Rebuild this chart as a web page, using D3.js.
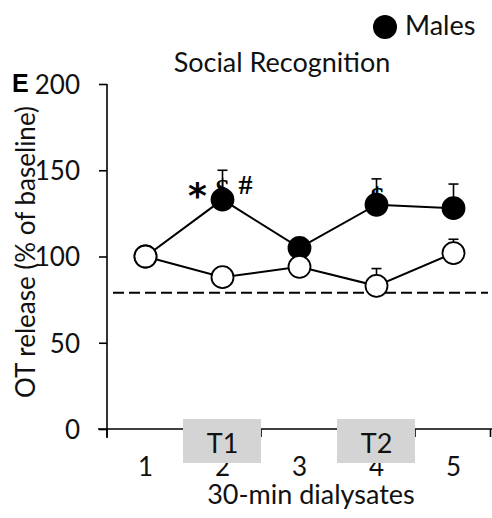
<!DOCTYPE html>
<html>
<head>
<meta charset="utf-8">
<script src="https://cdn.jsdelivr.net/npm/d3@7"></script>
<style>
  html, body { margin: 0; padding: 0; background: #fff; }
  svg { display: block; }
  text { font-family: Lato, "Open Sans", sans-serif; fill: #111; }
</style>
</head>
<body>
<svg id="chart" width="492" height="518"></svg>
<script>
// Time points (30-min dialysates)
const dialysates = [1, 2, 3, 4, 5];
// OT release, % of baseline (mean and upper SEM)
const maleMean = [100, 133, 105, 130, 128];
const maleSem = [0, 17, 3, 15, 14];
const femaleMean = [100, 88, 94, 83, 102];
const femaleSem = [0, 6, 3, 10, 8];
// Reference level (dashed line)
const referenceLevel = [79];
// Y axis ticks
const yTicks = [0, 50, 100, 150, 200];
// Test periods shaded on the x axis
const testPeriods = [{ label: "T1", at: 2 }, { label: "T2", at: 4 }];
// Significance marks above male points (offsets from the marker centre)
const marks = [
  { at: 2, text: "*", dx: -25, dy: 8 },
  { at: 2, text: "$", dx: 0, dy: -2 },
  { at: 2, text: "#", dx: 23, dy: -6 },
  { at: 4, text: "$", dx: 1, dy: 1 }
];

const svg = d3.select("#chart");

const x = d3.scaleBand().domain(dialysates).range([107, 492]).padding(0);
const y = d3.scaleLinear().domain([0, 200]).range([429, 84]);
const cx = d => x(d) + x.bandwidth() / 2;

// Title and legend
svg.append("text").attr("x", 282).attr("y", 72).attr("text-anchor", "middle")
  .style("font-size", "27px").text("Social Recognition");
svg.append("circle").attr("cx", 385).attr("cy", 27).attr("r", 12).attr("fill", "#000");
svg.append("text").attr("x", 405).attr("y", 35).style("font-size", "27px").text("Males");

// Panel letter
svg.append("text").attr("x", 12).attr("y", 92)
  .style("font-family", "'Liberation Sans', Arial, sans-serif")
  .style("font-size", "25px").style("font-weight", "bold").style("fill", "#000").text("E");

// Y axis
const yAxis = d3.axisLeft(y).tickValues(yTicks).tickSize(8).tickPadding(19);
const gy = svg.append("g").attr("transform", "translate(107,0)").call(yAxis);
gy.select(".domain").attr("d", "M0,84V438").attr("stroke", "#000").attr("stroke-width", 1.6);
gy.selectAll(".tick line").attr("stroke", "#000").attr("stroke-width", 1.6);
gy.selectAll(".tick text").style("font-size", "26px").style("font-family", "Lato, sans-serif")
  .attr("fill", "#111").attr("dy", "0.36em");

// Y axis title
svg.append("text").attr("transform", "translate(35,252) rotate(-90)")
  .attr("text-anchor", "middle").style("font-size", "26px").text("OT release (% of baseline)");

// X axis line with ticks at category boundaries
const boundaries = dialysates.map(d => x(d) + x.bandwidth()).concat([x(dialysates[0])]);
svg.append("line").attr("x1", 98).attr("x2", 492).attr("y1", y(0)).attr("y2", y(0))
  .attr("stroke", "#000").attr("stroke-width", 1.6);
svg.append("g").selectAll("line").data(boundaries).join("line")
  .attr("x1", d => Math.min(d, 490.5)).attr("x2", d => Math.min(d, 490.5))
  .attr("y1", y(0)).attr("y2", y(0) + 8)
  .attr("stroke", "#000").attr("stroke-width", 1.6);

// X tick labels
svg.append("g").selectAll("text").data(dialysates).join("text")
  .attr("x", d => cx(d)).attr("y", 476).attr("text-anchor", "middle")
  .style("font-size", "26px").text(d => d);

// Shaded test periods (drawn over the tick labels they sit on)
const tp = svg.append("g").selectAll("g").data(testPeriods).join("g");
tp.append("rect")
  .attr("x", d => x(d.at) - 1).attr("y", 419)
  .attr("width", x.bandwidth() + 1).attr("height", 44)
  .attr("fill", "#d4d4d4");
tp.append("text").attr("x", d => cx(d.at)).attr("y", 453).attr("text-anchor", "middle")
  .style("font-size", "27px").text(d => d.label);

// X axis title
svg.append("text").attr("x", 311).attr("y", 504).attr("text-anchor", "middle")
  .style("font-size", "27px").text("30-min dialysates");

// Dashed reference line
svg.append("line").attr("x1", 113).attr("x2", 488)
  .attr("y1", y(referenceLevel[0])).attr("y2", y(referenceLevel[0]))
  .attr("stroke", "#000").attr("stroke-width", 2).attr("stroke-dasharray", "11,5");

// Significance marks
svg.append("g").selectAll("text").data(marks).join("text")
  .attr("x", d => cx(d.at) + d.dx)
  .attr("y", d => y(maleMean[dialysates.indexOf(d.at)]) + d.dy)
  .attr("text-anchor", "middle")
  .style("font-family", d => d.text === "*" ? "'DejaVu Sans', sans-serif" : "'Liberation Serif', serif")
  .style("font-size", d => d.text === "*" ? "36px" : "28px")
  .style("font-weight", "bold")
  .style("fill", "#000")
  .text(d => d.text);

function series(mean, sem, fill) {
  const pts = dialysates.map((d, i) => ({ d, m: mean[i], e: sem[i] }));
  const g = svg.append("g");
  // upper error bars
  const eb = g.selectAll("g.err").data(pts.filter(p => p.e > 0)).join("g");
  eb.append("line").attr("x1", p => cx(p.d)).attr("x2", p => cx(p.d))
    .attr("y1", p => y(p.m)).attr("y2", p => y(p.m + p.e))
    .attr("stroke", "#000").attr("stroke-width", 1.6);
  eb.append("line").attr("x1", p => cx(p.d) - 5).attr("x2", p => cx(p.d) + 5)
    .attr("y1", p => y(p.m + p.e)).attr("y2", p => y(p.m + p.e))
    .attr("stroke", "#000").attr("stroke-width", 1.6);
  // connecting line
  g.append("path").datum(pts)
    .attr("d", d3.line().x(p => cx(p.d)).y(p => y(p.m)))
    .attr("fill", "none").attr("stroke", "#000").attr("stroke-width", 2);
  // markers
  g.selectAll("circle").data(pts).join("circle")
    .attr("cx", p => cx(p.d)).attr("cy", p => y(p.m)).attr("r", 11)
    .attr("fill", fill).attr("stroke", "#000").attr("stroke-width", 1.8);
}

series(maleMean, maleSem, "#000");
series(femaleMean, femaleSem, "#fff");
</script>
</body>
</html>
